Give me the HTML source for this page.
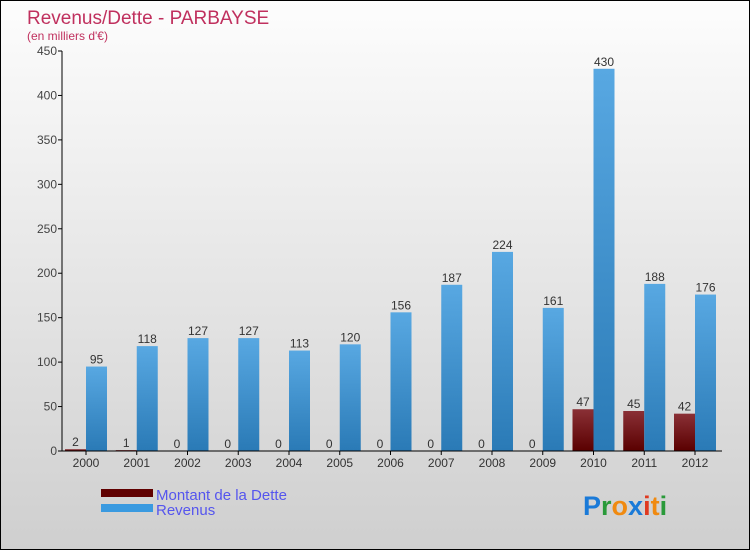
<!DOCTYPE html>
<html><head><meta charset="utf-8"><style>
body{margin:0}
#c{width:750px;height:550px;position:relative;overflow:hidden;box-sizing:border-box;border:1px solid #000;background:linear-gradient(#fdfdfd,#cfcfcf);font-family:"Liberation Sans",sans-serif}
</style></head><body>
<div id="c">
<svg id="s" width="750" height="550" style="position:absolute;left:0;top:0">
<defs>
<linearGradient id="gb" x1="0" y1="0" x2="0" y2="1"><stop offset="0" stop-color="#58a8e2"/><stop offset="1" stop-color="#2a7ab6"/></linearGradient>
<linearGradient id="gr" x1="0" y1="0" x2="0" y2="1"><stop offset="0" stop-color="#8a3036"/><stop offset="1" stop-color="#5a0000"/></linearGradient>
</defs>
<text x="26" y="23" font-size="19" fill="#c0305e">Revenus/Dette - PARBAYSE</text>
<text x="26" y="39" font-size="12" fill="#c0305e">(en milliers d'€)</text>
<g id="g"></g>
<rect x="100" y="488" width="52" height="8" fill="#600000"/>
<rect x="100" y="503" width="52" height="8" fill="#3a9ae0"/>
<text x="155" y="499" font-size="15" fill="#5555ee">Montant de la Dette</text>
<text x="155" y="514" font-size="15" fill="#5555ee">Revenus</text>
<text x="582" y="514" font-size="27" font-weight="bold"><tspan fill="#1a7ad8">P</tspan><tspan fill="#2a9a3a">r</tspan><tspan fill="#f08a10">o</tspan><tspan fill="#1a7ad8">x</tspan><tspan fill="#e03a20">i</tspan><tspan fill="#f08a10">t</tspan><tspan fill="#2a9a3a">i</tspan></text>
</svg>
</div>
<script>
const years=["2000","2001","2002","2003","2004","2005","2006","2007","2008","2009","2010","2011","2012"];
const dette=[2,1,0,0,0,0,0,0,0,0,47,45,42];
const revenus=[95,118,127,127,113,120,156,187,224,161,430,188,176];
const ticks=[0,50,100,150,200,250,300,350,400,450];
const NS="http://www.w3.org/2000/svg";
const g=document.getElementById('g');
const y=v=>450-v*400/450;
const x=i=>64+i*50.75;
function el(t,a,txt){const e=document.createElementNS(NS,t);for(const k in a)e.setAttribute(k,a[k]);if(txt!==undefined)e.textContent=txt;g.appendChild(e);return e;}
ticks.forEach(t=>{
 const l=el('line',{x1:57,x2:61,y1:y(t),y2:y(t),stroke:'#000'});
 
 
 const tx=el('text',{x:56,y:y(t)+4,'font-size':12,fill:'#444','text-anchor':'end'},t);
 
 
});
years.forEach((yr,i)=>{
 const d=el('rect',{x:x(i),y:y(dette[i]),width:21,height:450-y(dette[i]),fill:'url(#gr)'});
 
 
 const r=el('rect',{x:x(i)+21,y:y(revenus[i]),width:21,height:450-y(revenus[i]),fill:'url(#gb)'});
 
 
 const dl=el('text',{x:x(i)+10.5,y:y(dette[i])-3,'font-size':12,fill:'#333','text-anchor':'middle'},dette[i]);
 
 
 const rl=el('text',{x:x(i)+31.5,y:y(revenus[i])-3,'font-size':12,fill:'#333','text-anchor':'middle'},revenus[i]);
 
 
 const tk=el('line',{x1:x(i)+21,x2:x(i)+21,y1:450,y2:454,stroke:'#000'});
 
 
 const xl=el('text',{x:x(i)+21,y:466,'font-size':12,fill:'#333','text-anchor':'middle'},yr);
 
 
});
const ya=el('line',{x1:61,x2:61,y1:50,y2:450,stroke:'#000'});


const xa=el('line',{x1:61,x2:721,y1:450,y2:450,stroke:'#000'});


</script>
</body></html>
